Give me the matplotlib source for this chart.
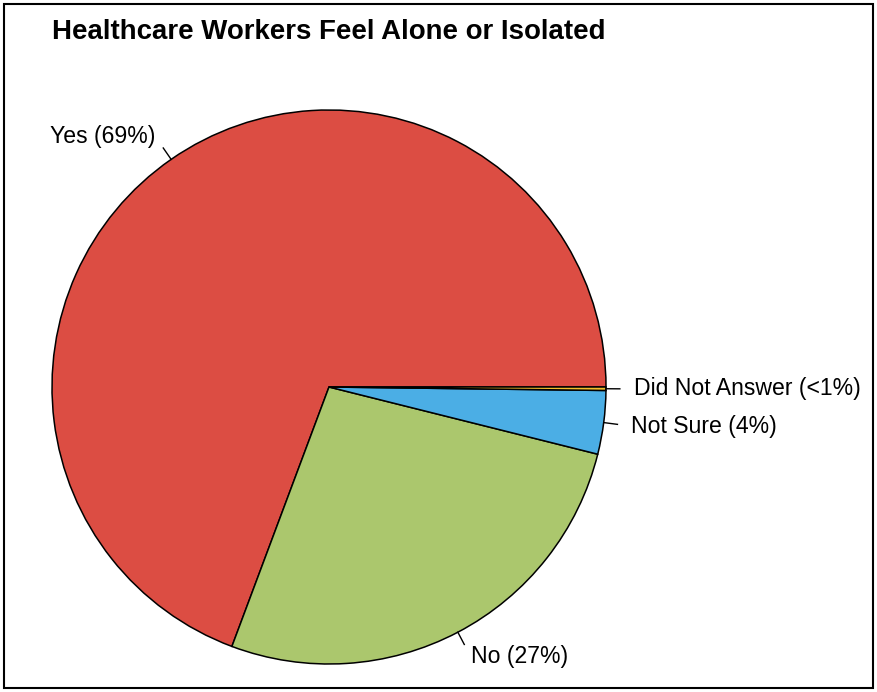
import numpy as np
import matplotlib.pyplot as plt
from matplotlib.patches import Rectangle

plt.rcParams['font.family'] = ['Liberation Sans', 'DejaVu Sans']

# survey answers, share of respondents (%)
answers = ['Yes', 'No', 'Not Sure', 'Did Not Answer']
shares = [69.3, 26.8, 3.7, 0.2]
labels = ['Yes (69%)', 'No (27%)', 'Not Sure (4%)', 'Did Not Answer (<1%)']
colors = ['#DC4D43', '#ABC76D', '#4BAEE5', '#F2BE2E']

W, H = 877, 692
fig = plt.figure(figsize=(W / 100, H / 100), dpi=100)
ax = fig.add_axes([0, 0, 1, 1])

cx, cy, r = 329, H - 387, 277
wedges, _ = ax.pie(shares, colors=colors, startangle=0, counterclock=True,
                   center=(cx, cy), radius=r, frame=True,
                   wedgeprops=dict(edgecolor='black', linewidth=1.1))
ax.set_xlim(0, W)
ax.set_ylim(0, H)
ax.set_aspect('equal')
ax.axis('off')

# short ticks and labels at each slice's middle angle
for w, lab in zip(wedges, labels):
    mid = np.deg2rad((w.theta1 + w.theta2) / 2)
    c, s = np.cos(mid), np.sin(mid)
    ax.plot([cx + r * c, cx + 1.05 * r * c], [cy + r * s, cy + 1.05 * r * s],
            color='black', lw=1.0)
    ax.text(cx + 1.1 * r * c, cy + 1.1 * r * s, lab, fontsize=16.6,
            ha='left' if c > 0 else 'right', va='center')

fig.text(52 / W, 1 - 32 / H, 'Healthcare Workers Feel Alone or Isolated',
         fontsize=19.9, fontweight='bold', ha='left', va='center')

fig.patches.append(Rectangle((4 / W, 4 / H), (W - 8) / W, (H - 8) / H,
                             transform=fig.transFigure, fill=False,
                             edgecolor='black', linewidth=1.5))

fig.savefig('out.png', dpi=100)
